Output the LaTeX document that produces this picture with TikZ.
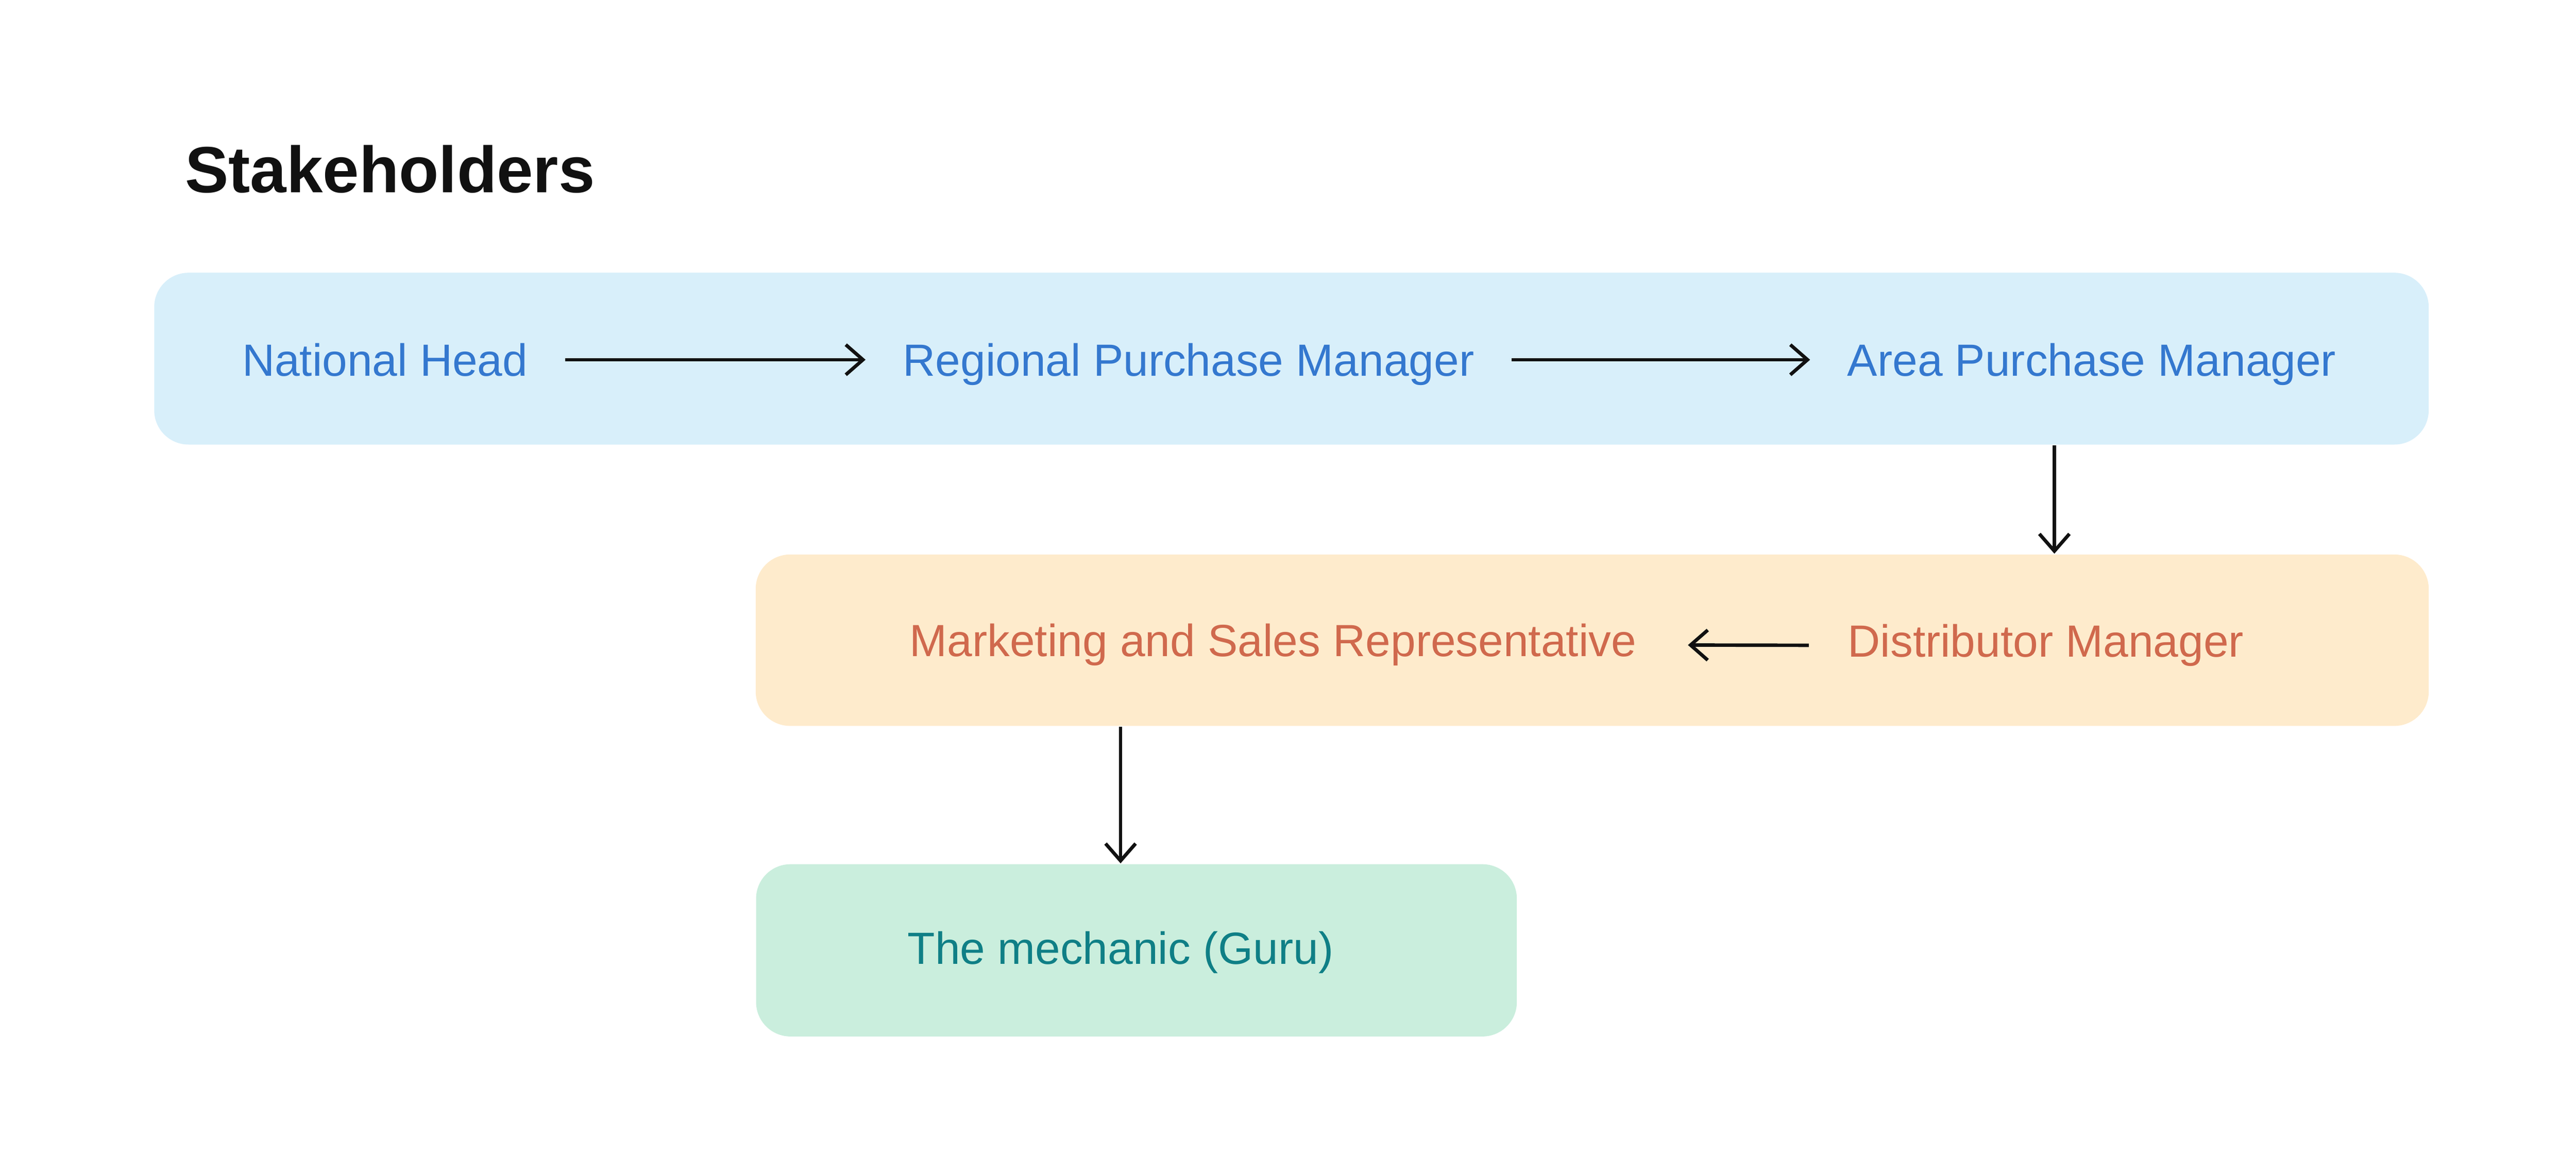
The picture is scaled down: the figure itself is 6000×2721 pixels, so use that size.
\documentclass[tikz,border=0pt]{standalone}
\usepackage{fontspec}
\setmainfont{Liberation Sans}
\usetikzlibrary{arrows.meta}
\usepackage{xcolor}

\begin{document}
\begin{tikzpicture}[x=0.1pt,y=0.1pt,yscale=-1,xscale=1,
  band/.style={rectangle, rounded corners=8pt, draw=none, inner sep=0pt},
  lbl/.style={anchor=base west, inner sep=0pt, text height=7.5pt, text depth=0pt, font=\fontsize{10.5}{12}\selectfont},
  flow/.style={draw={rgb, 255:red, 17; green, 17; blue, 17 }, line width=0.8pt, -{Straight Barb[length=4pt,width=7pt]}, shorten <=8.5pt, shorten >=8.5pt}]
\useasboundingbox (0,0) rectangle (6000,2721);

%Shape: Rectangle [blue band]
\node [band, fill={rgb, 255:red, 216; green, 239; blue, 250 }, minimum width=529.8pt, minimum height=40pt] (blue) at (3008,835) {};
%Shape: Rectangle [orange band]
\node [band, fill={rgb, 255:red, 254; green, 235; blue, 204 }, minimum width=389.7pt, minimum height=39.9pt] (orange) at (3708.5,1490.5) {};
%Shape: Rectangle [green band]
\node [band, fill={rgb, 255:red, 202; green, 238; blue, 221 }, minimum width=177.2pt, minimum height=40.1pt] (green) at (2647,2212.5) {};

% Text Node
\node [anchor=base west, inner sep=0pt, font=\fontsize{15.2}{18}\selectfont\bfseries, color={rgb, 255:red, 17; green, 17; blue, 17 }] (title) at (429,448) {Stakeholders};
% Text Node
\node [lbl, color={rgb, 255:red, 52; green, 120; blue, 207 }] (nat) at (562,875) {National Head};
% Text Node
\node [lbl, color={rgb, 255:red, 52; green, 120; blue, 207 }] (reg) at (2101,875) {Regional Purchase Manager};
% Text Node
\node [lbl, color={rgb, 255:red, 52; green, 120; blue, 207 }] (area) at (4301,875) {Area Purchase Manager};
% Text Node
\node [lbl, color={rgb, 255:red, 208; green, 105; blue, 77 }] (mark) at (2117,1528) {Marketing and Sales Representative};
% Text Node
\node [lbl, color={rgb, 255:red, 208; green, 105; blue, 77 }] (dist) at (4302,1529) {Distributor Manager};
% Text Node
\node [lbl, color={rgb, 255:red, 15; green, 127; blue, 134 }] (mech) at (2112,2245) {The mechanic (Guru)};

\coordinate (drop) at ([xshift=2pt]dist.center);

%Straight Lines
\draw [flow] (nat.east) -- (reg.west);
\draw [flow] (reg.east) -- (area.west);
\draw [flow, shorten <=0pt, shorten >=0pt] (blue.south -| drop) -- (orange.north -| drop);
\draw [flow, shorten <=8.9pt, shorten >=11.8pt] ([yshift=1.1pt]dist.west) -- ([yshift=1.1pt]mark.east);
\draw [flow, shorten <=0pt, shorten >=0pt] (orange.south -| mech.center) -- (green.north -| mech.center);

\end{tikzpicture}
\end{document}
